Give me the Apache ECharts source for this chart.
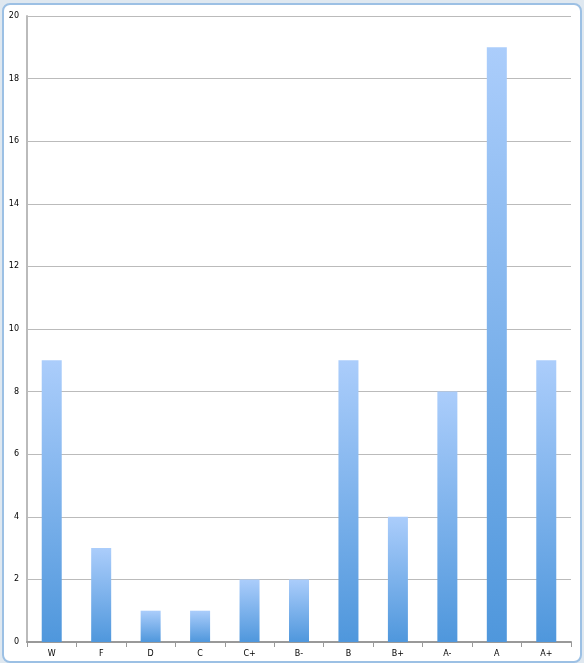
<!DOCTYPE html>
<html>
<head>
<meta charset="UTF-8">
<script src="https://cdn.jsdelivr.net/npm/echarts@6/dist/echarts.min.js"></script>
<style>
  body { margin: 0; background: #dfe8f0; }
  #frame { position: absolute; left: 2px; top: 3px; width: 576px; height: 656px;
           background: #fff; border: 2px solid #9cc0e4; border-radius: 8px; }
  #chart { width: 576px; height: 656px; }
</style>
</head>
<body>
<div id="frame"><div id="chart"></div></div>
<script>
var grades = ['W', 'F', 'D', 'C', 'C+', 'B-', 'B', 'B+', 'A-', 'A', 'A+'];
var counts = [9, 3, 1, 1, 2, 2, 9, 4, 8, 19, 9];

var chart = echarts.init(document.getElementById('chart'));
chart.setOption({
    animation: false,
    grid: { left: 23, right: 9, top: 11, bottom: 19 },
    xAxis: {
        type: 'category',
        data: grades,
        axisLine: { lineStyle: { color: '#999', width: 2 } },
        axisTick: { show: true, lineStyle: { color: '#999' } },
        axisLabel: { color: '#000', fontSize: 8, fontFamily: 'DejaVu Sans', margin: 8 }
    },
    yAxis: {
        type: 'value',
        min: 0, max: 20, interval: 2,
        axisLine: { show: true, lineStyle: { color: '#bbb', width: 2 } },
        splitLine: { lineStyle: { color: '#bbb', width: 1 } },
        axisLabel: { color: '#000', fontSize: 8, fontFamily: 'DejaVu Sans', margin: 8 }
    },
    series: [{
        type: 'bar',
        data: counts,
        barWidth: 20,
        itemStyle: {
            color: new echarts.graphic.LinearGradient(0, 0, 0, 1, [
                { offset: 0, color: '#abcdfb' },
                { offset: 1, color: '#4f97dc' }
            ])
        }
    }]
});
</script>
</body>
</html>
